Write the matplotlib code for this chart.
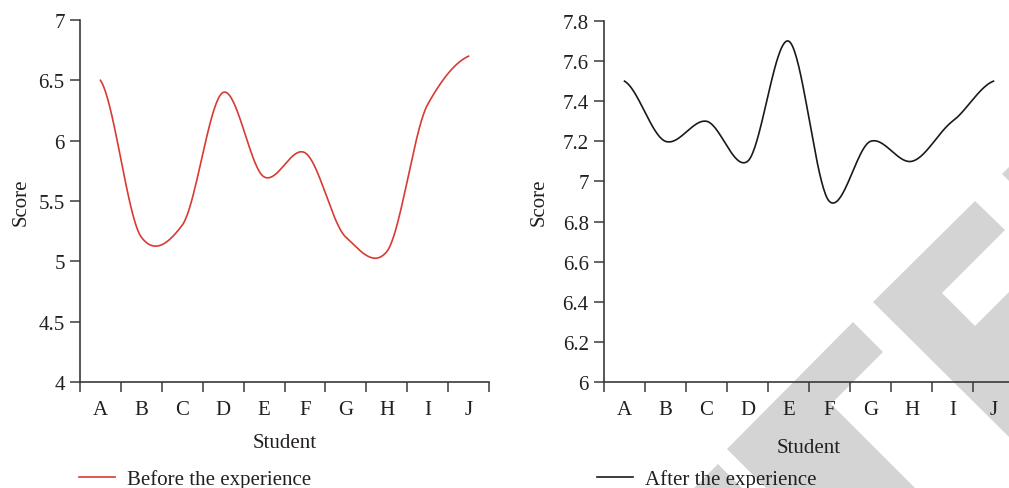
import numpy as np
import matplotlib
matplotlib.use('Agg')
import matplotlib.pyplot as plt
from matplotlib.patches import Polygon
from matplotlib.ticker import FuncFormatter

plt.rcParams['font.family'] = ['Liberation Serif', 'DejaVu Serif']
plt.rcParams['font.size'] = 15

students = ['A', 'B', 'C', 'D', 'E', 'F', 'G', 'H', 'I', 'J']
before = [6.5, 5.2, 5.3, 6.4, 5.7, 5.9, 5.2, 5.08, 6.3, 6.7]
after = [7.5, 7.2, 7.3, 7.1, 7.7, 6.9, 7.2, 7.1, 7.3, 7.5]

TXT = '#231f20'
SPINE = '#3a3a3a'


def smooth(vals, k=0.75, n=40):
    # cardinal spline through the points, like a "smoothed line" chart
    y = np.asarray(vals, float)
    p = np.concatenate([[y[0]], y, [y[-1]]])
    xs, ys = [], []
    t = np.linspace(0, 1, n, endpoint=False)
    h00 = 2 * t ** 3 - 3 * t ** 2 + 1
    h10 = t ** 3 - 2 * t ** 2 + t
    h01 = -2 * t ** 3 + 3 * t ** 2
    h11 = t ** 3 - t ** 2
    for i in range(len(y) - 1):
        p0, p1, p2, p3 = p[i], p[i + 1], p[i + 2], p[i + 3]
        m1 = k * (p2 - p0) / 2
        m2 = k * (p3 - p1) / 2
        xs.append(i + t)
        ys.append(h00 * p1 + h10 * m1 + h01 * p2 + h11 * m2)
    xs.append([len(y) - 1])
    ys.append([y[-1]])
    return np.concatenate(xs), np.concatenate(ys)


def style_axes(ax, ylim, yticks):
    ax.set_facecolor('none')
    ax.set_xlim(-0.5, len(students) - 0.5)
    ax.set_ylim(*ylim)
    ax.set_yticks(yticks)
    ax.yaxis.set_major_formatter(FuncFormatter(lambda v, p: '%g' % round(v, 2)))
    ax.set_xticks(range(len(students)))
    ax.set_xticklabels(students)
    ax.set_xticks(np.arange(-0.5, len(students)), minor=True)
    ax.tick_params(axis='x', which='major', length=0, pad=13, colors=TXT, labelsize=15)
    ax.tick_params(axis='x', which='minor', length=7, width=1.1, color=SPINE, direction='out')
    ax.tick_params(axis='y', length=7, width=1.1, color=SPINE, pad=4, labelcolor=TXT, labelsize=15)
    for s in ['top', 'right']:
        ax.spines[s].set_visible(False)
    for s in ['left', 'bottom']:
        ax.spines[s].set_color(SPINE)
        ax.spines[s].set_linewidth(1.2)


W, H = 1009, 489
fig = plt.figure(figsize=(W / 100, H / 100), dpi=100)

# grey watermark behind the charts (pixel coords, origin top-left)
marks = [
    [(853, 323), (883, 353), (831, 405), (915, 489), (766, 489), (727, 450)],
    [(873, 303), (975, 202), (1005, 231), (942, 294), (975, 327), (1012, 290), (1012, 441)],
    [(718, 465), (742, 489), (694, 489)],
    [(1002, 175), (1012, 165), (1012, 185)],
]
for m in marks:
    pts = [(x / W, 1 - y / H) for x, y in m]
    fig.add_artist(Polygon(pts, closed=True, transform=fig.transFigure,
                           facecolor='#d4d4d4', edgecolor='none', zorder=-5))

ax1 = fig.add_axes([80 / W, 1 - 383 / H, 409 / W, 362 / H])
ax2 = fig.add_axes([604 / W, 1 - 383 / H, 410 / W, 361 / H])

x1, y1 = smooth(before)
ax1.plot(x1, y1, color='#d93a33', lw=1.2, label='Before the experience')
style_axes(ax1, (4, 7), np.arange(4, 7.01, 0.5))
ax1.set_xlabel('Student', color=TXT, fontsize=15, labelpad=10)
ax1.set_ylabel('Score', color=TXT, fontsize=15, labelpad=6)

x2, y2 = smooth(after)
ax2.plot(x2, y2, color='#1a1a1a', lw=1.2, label='After the experience')
style_axes(ax2, (6, 7.8), np.arange(6, 7.81, 0.2))
ax2.set_xlabel('Student', color=TXT, fontsize=15, labelpad=14)
ax2.set_ylabel('Score', color=TXT, fontsize=15, labelpad=10)

for ax, lx in [(ax1, 79), (ax2, 597)]:
    leg = ax.legend(loc='center left', bbox_to_anchor=(lx / W, 1 - 480 / H),
                    bbox_transform=fig.transFigure, frameon=False, fontsize=15,
                    handlelength=1.75, handletextpad=0.55, borderpad=0, borderaxespad=0)
    for t in leg.get_texts():
        t.set_color(TXT)

fig.savefig('out.png', dpi=100)
